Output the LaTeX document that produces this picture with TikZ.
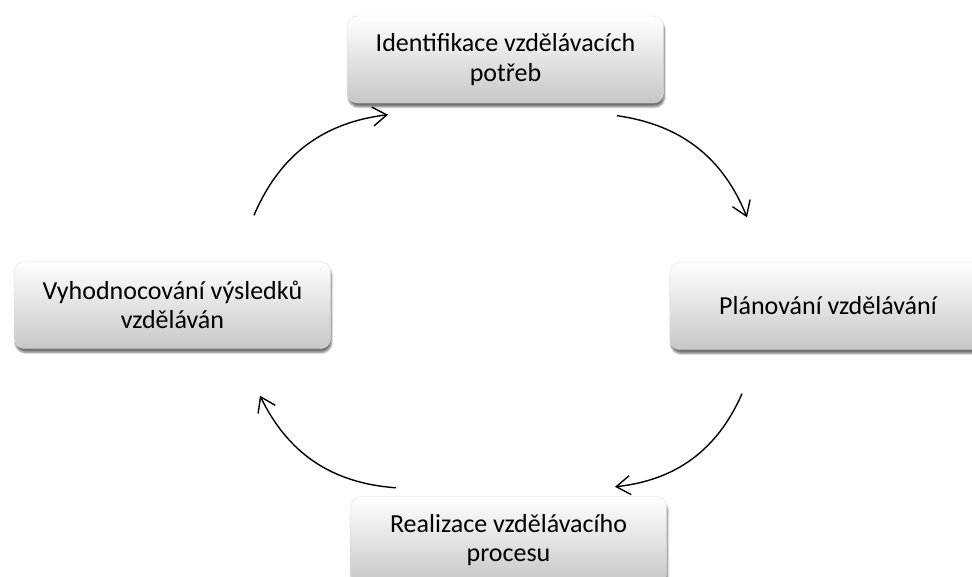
\documentclass[tikz,border=0pt]{standalone}
\usepackage{fontspec}
\setmainfont{Carlito}
\usepackage{tikz}
\usetikzlibrary{positioning,arrows.meta,shadows.blur}
\tikzset{
  stage/.style={rectangle, rounded corners=10pt, draw=black!12, top color=white, bottom color=black!22,
    minimum width=316pt, minimum height=87pt, align=center, font=\fontsize{26}{29.5}\selectfont,
    blur shadow={shadow xshift=1pt, shadow yshift=-4pt, shadow blur steps=6, shadow opacity=55}},
  cyc/.style={draw=black, line width=1.4pt, -{Straight Barb[length=14pt,width=19pt]}}
}

\begin{document}
\begin{tikzpicture}[x=1pt,y=1pt]
  \useasboundingbox (0,0) rectangle (972,-577);

  % Stages of the cycle
  \node[stage] (ident) at (505.5,-59.5) {Identifikace vzdělávacích\\potřeb};
  \node[stage] (plan) at (828,-306) {Plánování vzdělávání};
  \node[stage] (real) at (508.5,-540) {Realizace vzdělávacího\\procesu};
  \node[stage] (eval) at (172.5,-305) {Vyhodnocování výsledků\\vzděláván};

  % Arrows, clockwise
  \draw[cyc] ([shift={(111.5,-12.5)}]ident.south) to[bend left=30] ([shift={(-81,45)}]plan.north);
  \draw[cyc] ([shift={(-86,-44)}]plan.south) to[bend left=30] ([shift={(106.5,9.5)}]real.north);
  \draw[cyc] ([shift={(-112.5,8.5)}]real.north) to[bend left=30] ([shift={(87.5,-47)}]eval.south);
  \draw[cyc] ([shift={(81.5,46)}]eval.north) to[bend left=30] ([shift={(-117.5,-11.5)}]ident.south);
\end{tikzpicture}
\end{document}
